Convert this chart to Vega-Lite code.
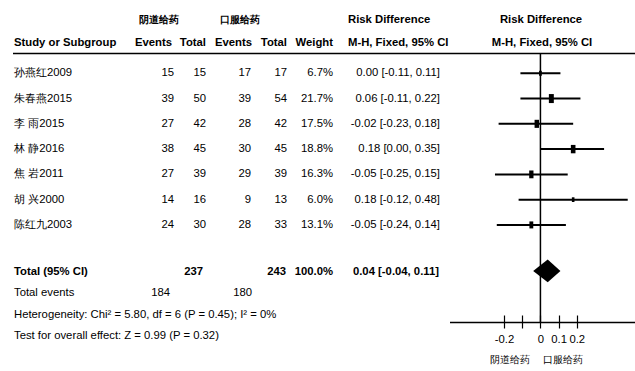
{
  "$schema": "https://vega.github.io/schema/vega-lite/v6.json",
  "width": 635,
  "height": 371,
  "autosize": {"type": "none"},
  "padding": 0,
  "background": "white",
  "config": {
    "view": {"stroke": null},
    "font": "Liberation Sans, Arial, sans-serif",
    "text": {"fontSize": 11.3, "color": "black", "baseline": "middle"},
    "axisY": {"disable": true}
  },
  "datasets": {
    "studies": [
      {"study": "孙燕红2009", "e1": 15, "n1": 15, "e2": 17, "n2": 17, "weight": 6.7, "rd": 0.00, "lo": -0.11, "hi": 0.11},
      {"study": "朱春燕2015", "e1": 39, "n1": 50, "e2": 39, "n2": 54, "weight": 21.7, "rd": 0.06, "lo": -0.11, "hi": 0.22},
      {"study": "李 雨2015", "e1": 27, "n1": 42, "e2": 28, "n2": 42, "weight": 17.5, "rd": -0.02, "lo": -0.23, "hi": 0.18},
      {"study": "林 静2016", "e1": 38, "n1": 45, "e2": 30, "n2": 45, "weight": 18.8, "rd": 0.18, "lo": 0.00, "hi": 0.35},
      {"study": "焦 岩2011", "e1": 27, "n1": 39, "e2": 29, "n2": 39, "weight": 16.3, "rd": -0.05, "lo": -0.25, "hi": 0.15},
      {"study": "胡 兴2000", "e1": 14, "n1": 16, "e2": 9, "n2": 13, "weight": 6.0, "rd": 0.18, "lo": -0.12, "hi": 0.48},
      {"study": "陈红九2003", "e1": 24, "n1": 30, "e2": 28, "n2": 33, "weight": 13.1, "rd": -0.05, "lo": -0.24, "hi": 0.14}
    ],
    "pooled": [
      {"n1": 237, "n2": 243, "e1": 184, "e2": 180, "weight": 100.0, "rd": 0.04, "lo": -0.04, "hi": 0.11,
       "chi2": 5.80, "df": 6, "p_het": 0.45, "i2": 0, "z": 0.99, "p": 0.32}
    ]
  },
  "data": {"values": [{}]},
  "resolve": {"axis": {"x": "independent"}},
  "layer": [
    {
      "data": {"name": "studies"},
      "transform": [{"window": [{"op": "row_number", "as": "row"}]}],
      "mark": {"type": "rule", "strokeWidth": 2, "color": "black"},
      "encoding": {
        "x": {
          "field": "lo", "type": "quantitative",
          "scale": {"domain": [-0.5, 0.52], "range": [449.5, 635], "nice": false, "zero": false},
          "axis": {
            "orient": "bottom", "offset": -49, "values": [-0.2, -0.1, 0, 0.1, 0.2],
            "title": null, "grid": false, "domainColor": "black", "domainWidth": 1.5,
            "tickColor": "black", "tickWidth": 1.2, "tickSize": 6,
            "labelFontSize": 11.3, "labelColor": "black", "labelPadding": 5,
            "labelOverlap": false, "labelFlush": false,
            "labelExpr": "datum.value == -0.1 ? '' : datum.value == 0 ? '0' : replace(format(datum.value, '.1f'), '−', '-')"
          }
        },
        "x2": {"field": "hi"},
        "y": {
          "field": "row", "type": "quantitative",
          "scale": {"domain": [-1.9, 12.78], "reverse": true, "nice": false, "zero": false}
        }
      }
    },
    {
      "data": {"name": "studies"},
      "transform": [{"window": [{"op": "row_number", "as": "row"}]}],
      "mark": {"type": "point", "filled": true, "shape": "M-0.55,-1L0.55,-1L0.55,1L-0.55,1Z", "color": "black", "opacity": 1, "strokeWidth": 0},
      "encoding": {
        "x": {"field": "rd", "type": "quantitative", "axis": null},
        "y": {"field": "row", "type": "quantitative"},
        "size": {"field": "weight", "type": "quantitative", "scale": {"domain": [0, 21.7], "range": [0, 81]}, "legend": null}
      }
    },
    {
      "mark": {"type": "rule", "strokeWidth": 1.5, "color": "black"},
      "encoding": {
        "x": {
          "datum": 0, "type": "quantitative",
          "axis": {
            "orient": "top", "offset": -322, "values": [-0.2, -0.1, 0, 0.1, 0.2],
            "labels": false, "domain": false, "title": null, "grid": false,
            "tickColor": "black", "tickWidth": 1.2, "tickSize": 7
          }
        },
        "y": {"datum": 0.22, "type": "quantitative"},
        "y2": {"datum": 10.84}
      }
    },
    {
      "data": {"name": "pooled"},
      "transform": [
        {"fold": ["lo", "rd", "hi"], "as": ["k", "x"]},
        {"calculate": "datum.k == 'rd' ? 0.45 : 0", "as": "half"},
        {"calculate": "8.82 - datum.half", "as": "top"},
        {"calculate": "8.82 + datum.half", "as": "bot"}
      ],
      "mark": {"type": "area", "orient": "vertical", "color": "black", "opacity": 1},
      "encoding": {
        "x": {"field": "x", "type": "quantitative", "axis": null},
        "y": {"field": "top", "type": "quantitative"},
        "y2": {"field": "bot"}
      }
    },
    {
      "data": {"name": "studies"},
      "transform": [{"window": [{"op": "row_number", "as": "row"}]}],
      "mark": {"type": "text", "align": "left"},
      "encoding": {"x": {"value": 14}, "y": {"field": "row", "type": "quantitative"}, "text": {"field": "study"}}
    },
    {
      "data": {"name": "studies"},
      "transform": [{"window": [{"op": "row_number", "as": "row"}]}],
      "mark": {"type": "text", "align": "right"},
      "encoding": {"x": {"value": 174}, "y": {"field": "row", "type": "quantitative"}, "text": {"field": "e1"}}
    },
    {
      "data": {"name": "studies"},
      "transform": [{"window": [{"op": "row_number", "as": "row"}]}],
      "mark": {"type": "text", "align": "right"},
      "encoding": {"x": {"value": 206}, "y": {"field": "row", "type": "quantitative"}, "text": {"field": "n1"}}
    },
    {
      "data": {"name": "studies"},
      "transform": [{"window": [{"op": "row_number", "as": "row"}]}],
      "mark": {"type": "text", "align": "right"},
      "encoding": {"x": {"value": 251}, "y": {"field": "row", "type": "quantitative"}, "text": {"field": "e2"}}
    },
    {
      "data": {"name": "studies"},
      "transform": [{"window": [{"op": "row_number", "as": "row"}]}],
      "mark": {"type": "text", "align": "right"},
      "encoding": {"x": {"value": 287}, "y": {"field": "row", "type": "quantitative"}, "text": {"field": "n2"}}
    },
    {
      "data": {"name": "studies"},
      "transform": [
        {"window": [{"op": "row_number", "as": "row"}]},
        {"calculate": "format(datum.weight, '.1f') + '%'", "as": "wtxt"}
      ],
      "mark": {"type": "text", "align": "right"},
      "encoding": {"x": {"value": 333}, "y": {"field": "row", "type": "quantitative"}, "text": {"field": "wtxt"}}
    },
    {
      "data": {"name": "studies"},
      "transform": [
        {"window": [{"op": "row_number", "as": "row"}]},
        {"calculate": "replace(format(datum.rd, '.2f'), '−', '-') + ' [' + replace(format(datum.lo, '.2f'), '−', '-') + ', ' + replace(format(datum.hi, '.2f'), '−', '-') + ']'", "as": "ci"}
      ],
      "mark": {"type": "text", "align": "right"},
      "encoding": {"x": {"value": 440}, "y": {"field": "row", "type": "quantitative"}, "text": {"field": "ci"}}
    },
    {
      "mark": {"type": "text", "align": "center", "fontWeight": "bold", "fontSize": 10, "text": "阴道给药"},
      "encoding": {"x": {"value": 159}, "y": {"datum": -1.11, "type": "quantitative"}}
    },
    {
      "mark": {"type": "text", "align": "center", "fontWeight": "bold", "fontSize": 10, "text": "口服给药"},
      "encoding": {"x": {"value": 240}, "y": {"datum": -1.11, "type": "quantitative"}}
    },
    {
      "mark": {"type": "text", "align": "left", "fontWeight": "bold", "text": "Risk Difference"},
      "encoding": {"x": {"value": 348}, "y": {"datum": -1.11, "type": "quantitative"}}
    },
    {
      "mark": {"type": "text", "align": "center", "fontWeight": "bold", "text": "Risk Difference"},
      "encoding": {"x": {"value": 541}, "y": {"datum": -1.11, "type": "quantitative"}}
    },
    {
      "mark": {"type": "text", "align": "left", "fontWeight": "bold", "text": "Study or Subgroup"},
      "encoding": {"x": {"value": 14}, "y": {"datum": -0.2, "type": "quantitative"}}
    },
    {
      "mark": {"type": "text", "align": "right", "fontWeight": "bold", "text": "Events"},
      "encoding": {"x": {"value": 172}, "y": {"datum": -0.2, "type": "quantitative"}}
    },
    {
      "mark": {"type": "text", "align": "right", "fontWeight": "bold", "text": "Total"},
      "encoding": {"x": {"value": 206}, "y": {"datum": -0.2, "type": "quantitative"}}
    },
    {
      "mark": {"type": "text", "align": "right", "fontWeight": "bold", "text": "Events"},
      "encoding": {"x": {"value": 252}, "y": {"datum": -0.2, "type": "quantitative"}}
    },
    {
      "mark": {"type": "text", "align": "right", "fontWeight": "bold", "text": "Total"},
      "encoding": {"x": {"value": 287}, "y": {"datum": -0.2, "type": "quantitative"}}
    },
    {
      "mark": {"type": "text", "align": "right", "fontWeight": "bold", "text": "Weight"},
      "encoding": {"x": {"value": 333}, "y": {"datum": -0.2, "type": "quantitative"}}
    },
    {
      "mark": {"type": "text", "align": "left", "fontWeight": "bold", "text": "M-H, Fixed, 95% CI"},
      "encoding": {"x": {"value": 348}, "y": {"datum": -0.2, "type": "quantitative"}}
    },
    {
      "mark": {"type": "text", "align": "center", "fontWeight": "bold", "text": "M-H, Fixed, 95% CI"},
      "encoding": {"x": {"value": 542}, "y": {"datum": -0.2, "type": "quantitative"}}
    },
    {
      "mark": {"type": "rule", "strokeWidth": 1.5, "color": "black"},
      "encoding": {"x": {"value": 13}, "x2": {"value": 635}, "y": {"datum": 0.22, "type": "quantitative"}}
    },
    {
      "mark": {"type": "text", "align": "left", "fontWeight": "bold", "text": "Total (95% CI)"},
      "encoding": {"x": {"value": 14}, "y": {"datum": 8.86, "type": "quantitative"}}
    },
    {
      "data": {"name": "pooled"},
      "mark": {"type": "text", "align": "right", "fontWeight": "bold"},
      "encoding": {"x": {"value": 203}, "y": {"datum": 8.86, "type": "quantitative"}, "text": {"field": "n1"}}
    },
    {
      "data": {"name": "pooled"},
      "mark": {"type": "text", "align": "right", "fontWeight": "bold"},
      "encoding": {"x": {"value": 286}, "y": {"datum": 8.86, "type": "quantitative"}, "text": {"field": "n2"}}
    },
    {
      "data": {"name": "pooled"},
      "transform": [{"calculate": "format(datum.weight, '.1f') + '%'", "as": "wtxt"}],
      "mark": {"type": "text", "align": "right", "fontWeight": "bold"},
      "encoding": {"x": {"value": 333}, "y": {"datum": 8.86, "type": "quantitative"}, "text": {"field": "wtxt"}}
    },
    {
      "data": {"name": "pooled"},
      "transform": [
        {"calculate": "replace(format(datum.rd, '.2f'), '−', '-') + ' [' + replace(format(datum.lo, '.2f'), '−', '-') + ', ' + replace(format(datum.hi, '.2f'), '−', '-') + ']'", "as": "ci"}
      ],
      "mark": {"type": "text", "align": "right", "fontWeight": "bold"},
      "encoding": {"x": {"value": 439}, "y": {"datum": 8.86, "type": "quantitative"}, "text": {"field": "ci"}}
    },
    {
      "mark": {"type": "text", "align": "left", "text": "Total events"},
      "encoding": {"x": {"value": 14}, "y": {"datum": 9.7, "type": "quantitative"}}
    },
    {
      "data": {"name": "pooled"},
      "mark": {"type": "text", "align": "right"},
      "encoding": {"x": {"value": 170}, "y": {"datum": 9.7, "type": "quantitative"}, "text": {"field": "e1"}}
    },
    {
      "data": {"name": "pooled"},
      "mark": {"type": "text", "align": "right"},
      "encoding": {"x": {"value": 252}, "y": {"datum": 9.7, "type": "quantitative"}, "text": {"field": "e2"}}
    },
    {
      "data": {"name": "pooled"},
      "transform": [
        {"calculate": "'Heterogeneity: Chi² = ' + format(datum.chi2, '.2f') + ', df = ' + datum.df + ' (P = ' + format(datum.p_het, '.2f') + '); I² = ' + datum.i2 + '%'", "as": "het"}
      ],
      "mark": {"type": "text", "align": "left"},
      "encoding": {"x": {"value": 14}, "y": {"datum": 10.56, "type": "quantitative"}, "text": {"field": "het"}}
    },
    {
      "data": {"name": "pooled"},
      "transform": [
        {"calculate": "'Test for overall effect: Z = ' + format(datum.z, '.2f') + ' (P = ' + format(datum.p, '.2f') + ')'", "as": "test"}
      ],
      "mark": {"type": "text", "align": "left"},
      "encoding": {"x": {"value": 14}, "y": {"datum": 11.39, "type": "quantitative"}, "text": {"field": "test"}}
    },
    {
      "mark": {"type": "text", "align": "center", "fontSize": 10, "text": "阴道给药"},
      "encoding": {"x": {"datum": -0.17, "type": "quantitative", "axis": null}, "y": {"datum": 12.34, "type": "quantitative"}}
    },
    {
      "mark": {"type": "text", "align": "center", "fontSize": 10, "text": "口服给药"},
      "encoding": {"x": {"datum": 0.124, "type": "quantitative", "axis": null}, "y": {"datum": 12.34, "type": "quantitative"}}
    }
  ]
}
